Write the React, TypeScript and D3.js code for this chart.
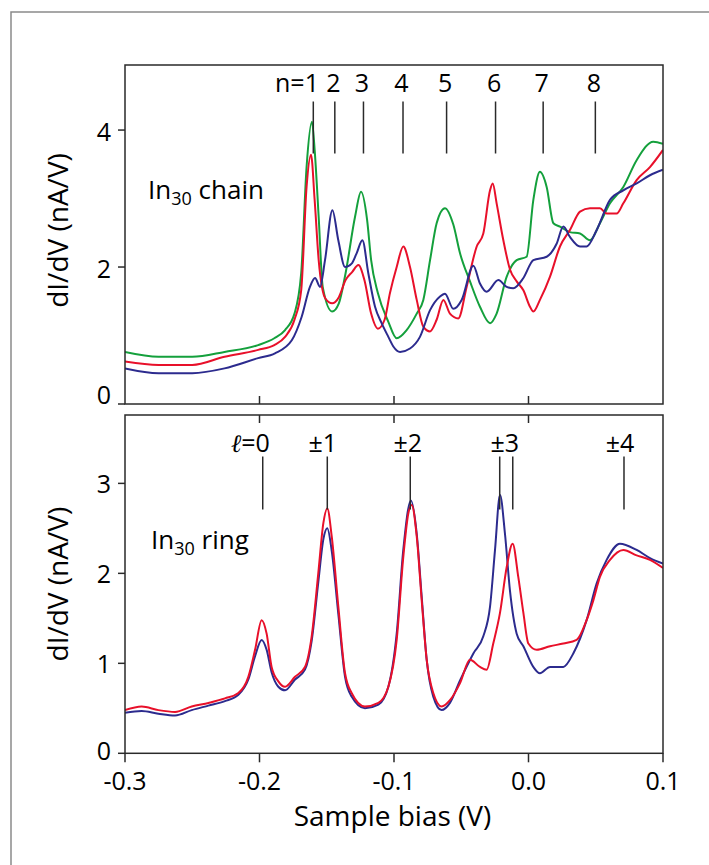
import React from "react";
import * as d3 from "d3";

// ---------- DATA (bias in V, dI/dV in nA/V) ----------
const chainGreen: [number, number][] = [
  [-0.3, 0.76], [-0.275, 0.69], [-0.25, 0.69], [-0.226, 0.76], [-0.201, 0.86], [-0.189, 0.96],
  [-0.181, 1.08], [-0.174, 1.32], [-0.169, 1.91], [-0.165, 3.46], [-0.161, 4.12], [-0.159, 3.71],
  [-0.156, 2.73], [-0.153, 1.71], [-0.146, 1.35], [-0.141, 1.47], [-0.136, 1.91], [-0.129, 2.73],
  [-0.1245, 3.1], [-0.12, 2.69], [-0.117, 2.1], [-0.112, 1.62], [-0.1042, 1.2], [-0.098, 0.96],
  [-0.0906, 1.08], [-0.0831, 1.32], [-0.0782, 1.52], [-0.0732, 2.1], [-0.0683, 2.64], [-0.0621, 2.86],
  [-0.0559, 2.62], [-0.0509, 2.2], [-0.0435, 1.79], [-0.0361, 1.42], [-0.0286, 1.18], [-0.0237, 1.32],
  [-0.0162, 1.86], [-0.0088, 2.1], [-0.0014, 2.15], [0.0036, 2.98], [0.0085, 3.39], [0.0135, 3.17],
  [0.0185, 2.64], [0.0234, 2.59], [0.0308, 2.51], [0.0383, 2.49], [0.0457, 2.39], [0.0531, 2.64],
  [0.0606, 2.93], [0.0705, 3.17], [0.0804, 3.56], [0.0928, 3.83], [0.1, 3.8],
];
const chainRed: [number, number][] = [
  [-0.3, 0.62], [-0.275, 0.57], [-0.25, 0.57], [-0.226, 0.69], [-0.201, 0.79], [-0.189, 0.86],
  [-0.181, 0.98], [-0.174, 1.23], [-0.169, 1.66], [-0.165, 3.17], [-0.1617, 3.64], [-0.159, 2.98],
  [-0.156, 2.1], [-0.151, 1.54], [-0.146, 1.47], [-0.141, 1.56], [-0.136, 1.81], [-0.131, 1.93],
  [-0.1265, 2.03], [-0.122, 1.81], [-0.117, 1.32], [-0.112, 1.1], [-0.107, 1.23], [-0.103, 1.62],
  [-0.098, 2.0], [-0.0931, 2.3], [-0.0881, 2.0], [-0.0831, 1.52], [-0.0782, 1.13], [-0.0732, 1.06],
  [-0.0683, 1.23], [-0.0633, 1.52], [-0.0584, 1.32], [-0.0522, 1.25], [-0.046, 1.71], [-0.0385, 2.3],
  [-0.0336, 2.49], [-0.0286, 3.12], [-0.0266, 3.22], [-0.0237, 2.93], [-0.0187, 2.39], [-0.0137, 1.96],
  [-0.0088, 1.79], [-0.0038, 1.66], [0.0011, 1.42], [0.0036, 1.35], [0.0085, 1.52], [0.016, 1.86],
  [0.0234, 2.3], [0.0308, 2.54], [0.0383, 2.81], [0.0457, 2.86], [0.0531, 2.86], [0.0581, 2.78],
  [0.0655, 2.78], [0.0705, 2.93], [0.0804, 3.27], [0.0903, 3.46], [0.1, 3.71],
];
const chainBlue: [number, number][] = [
  [-0.3, 0.52], [-0.275, 0.45], [-0.25, 0.45], [-0.226, 0.52], [-0.201, 0.67], [-0.1885, 0.74],
  [-0.176, 0.93], [-0.1687, 1.27], [-0.1625, 1.71], [-0.1587, 1.84], [-0.155, 1.71], [-0.1513, 2.1],
  [-0.1458, 2.83], [-0.1414, 2.39], [-0.1364, 2.0], [-0.1315, 2.05], [-0.1278, 2.2], [-0.1235, 2.39],
  [-0.1191, 1.91], [-0.1141, 1.42], [-0.1092, 1.18], [-0.1042, 0.98], [-0.1005, 0.84], [-0.0955, 0.76],
  [-0.0881, 0.81], [-0.0807, 0.98], [-0.0732, 1.37], [-0.0658, 1.57], [-0.0621, 1.61], [-0.0559, 1.39],
  [-0.0497, 1.52], [-0.041, 2.02], [-0.0361, 1.76], [-0.0311, 1.64], [-0.0224, 1.81], [-0.0162, 1.71],
  [-0.0113, 1.69], [-0.0038, 1.84], [0.0036, 2.1], [0.0135, 2.15], [0.0209, 2.34], [0.0259, 2.59],
  [0.0308, 2.44], [0.0383, 2.3], [0.0432, 2.3], [0.0507, 2.54], [0.0606, 2.98], [0.0705, 3.12],
  [0.0804, 3.22], [0.0903, 3.34], [0.1, 3.42],
];
const ringRed: [number, number][] = [
  [-0.3, 0.48], [-0.2876, 0.52], [-0.2752, 0.48], [-0.2628, 0.46], [-0.2504, 0.52], [-0.238, 0.56],
  [-0.2257, 0.61], [-0.2157, 0.67], [-0.2083, 0.85], [-0.2033, 1.15], [-0.1984, 1.48], [-0.1947, 1.33],
  [-0.191, 0.96], [-0.186, 0.8], [-0.181, 0.74], [-0.1736, 0.85], [-0.1662, 0.96], [-0.1612, 1.3],
  [-0.1563, 2.0], [-0.1525, 2.56], [-0.1496, 2.72], [-0.1463, 2.41], [-0.1414, 1.63], [-0.1364, 0.89],
  [-0.1315, 0.67], [-0.1216, 0.52], [-0.1116, 0.56], [-0.1042, 0.74], [-0.098, 1.26], [-0.0931, 2.18],
  [-0.0893, 2.67], [-0.0869, 2.76], [-0.0831, 2.41], [-0.0794, 1.7], [-0.0757, 1.04], [-0.0708, 0.67],
  [-0.0646, 0.52], [-0.0584, 0.59], [-0.0509, 0.78], [-0.0435, 1.04], [-0.0361, 0.96], [-0.0311, 0.93],
  [-0.0262, 1.22], [-0.0212, 1.56], [-0.0162, 2.07], [-0.0118, 2.33], [-0.0076, 1.96], [-0.0038, 1.56],
  [-0.0001, 1.22], [0.0061, 1.15], [0.016, 1.19], [0.0259, 1.22], [0.0358, 1.26], [0.0432, 1.48],
  [0.0482, 1.7], [0.0531, 1.96], [0.0606, 2.15], [0.0705, 2.26], [0.0804, 2.2], [0.0903, 2.15],
  [0.1, 2.06],
];
const ringBlue: [number, number][] = [
  [-0.3, 0.45], [-0.2876, 0.47], [-0.2752, 0.44], [-0.2628, 0.42], [-0.2504, 0.48], [-0.238, 0.53],
  [-0.2257, 0.58], [-0.2157, 0.65], [-0.2083, 0.82], [-0.2033, 1.08], [-0.1984, 1.26], [-0.1947, 1.15],
  [-0.191, 0.9], [-0.186, 0.74], [-0.181, 0.7], [-0.1736, 0.82], [-0.1662, 0.93], [-0.1612, 1.25],
  [-0.1563, 1.9], [-0.1525, 2.38], [-0.1496, 2.5], [-0.1463, 2.25], [-0.1414, 1.55], [-0.1364, 0.85],
  [-0.1315, 0.63], [-0.1216, 0.5], [-0.1116, 0.54], [-0.1042, 0.74], [-0.098, 1.33], [-0.0931, 2.26],
  [-0.0874, 2.81], [-0.0831, 2.44], [-0.0794, 1.74], [-0.0757, 1.04], [-0.0708, 0.63], [-0.0646, 0.48],
  [-0.0584, 0.56], [-0.0509, 0.81], [-0.041, 1.11], [-0.0336, 1.3], [-0.0286, 1.63], [-0.0249, 2.26],
  [-0.0212, 2.87], [-0.0175, 2.44], [-0.0138, 1.81], [-0.0088, 1.33], [-0.0038, 1.19], [0.0036, 0.96],
  [0.0085, 0.89], [0.016, 0.96], [0.0259, 0.96], [0.0333, 1.11], [0.0432, 1.48], [0.0507, 1.89],
  [0.0581, 2.15], [0.068, 2.33], [0.0804, 2.26], [0.0903, 2.17], [0.1, 2.11],
];

const xTicks = [-0.3, -0.2, -0.1, 0.0, 0.1];
const xTickLabels = ["-0.3", "-0.2", "-0.1", "0.0", "0.1"];
const chainYTicks = [0, 2, 4];
const ringYTicks = [0, 1, 2, 3];

const chainMarkerBias = [-0.16, -0.144, -0.1227, -0.0933, -0.0609, -0.0245, 0.0109, 0.0497];
const chainMarkerLabels = ["1", "2", "3", "4", "5", "6", "7", "8"];
const ringMarkerBias = [-0.1976, -0.1496, -0.0879, -0.0214, -0.0117, 0.071];
const ringLabelBias = [-0.1976, -0.153, -0.0898, -0.0176, 0.068];
const ringLabels = ["0", "±1", "±2", "±3", "±4"];

// ---------- STYLE ----------
const FONT = "'Open Sans', 'DejaVu Sans', sans-serif";
const GREEN = "#14a03c";
const RED = "#e8102a";
const BLUE = "#2c2b8e";
const AX = "#2a2a2a";

export default function App() {
  const left = 125, right = 663;
  const x = d3.scaleLinear().domain([-0.3, 0.1]).range([left, right]);
  const topY0 = 404, topY1 = 65;
  const botY0 = 753.3, botY1 = 415;
  const yTop = d3.scaleLinear().domain([0, 4.95]).range([topY0, topY1]);
  const yBot = d3.scaleLinear().domain([0, 3.76]).range([botY0, botY1]);

  const lineTop = d3.line<[number, number]>().x((d) => x(d[0])).y((d) => yTop(d[1])).curve(d3.curveMonotoneX);
  const lineBot = d3.line<[number, number]>().x((d) => x(d[0])).y((d) => yBot(d[1])).curve(d3.curveMonotoneX);

  const fs = 25; // tick & marker labels
  const fsTitle = 28; // axis titles
  const fsPanel = 26;
  const digitHalf = 7.2;

  return (
    <svg width={709} height={865} style={{ position: "absolute", left: 0, top: 0, background: "#fff" }} fontFamily={FONT}>
      <rect x={0} y={0} width={709} height={865} fill="#fff" />
      {/* outer frame */}
      <path d="M11,865 V12 H709" fill="none" stroke="#8a8a8a" strokeWidth={1.5} />

      <defs>
        <clipPath id="clipTop"><rect x={left} y={topY1} width={right - left} height={topY0 - topY1} /></clipPath>
        <clipPath id="clipBot"><rect x={left} y={botY1} width={right - left} height={botY0 - botY1} /></clipPath>
      </defs>

      {/* ---------- TOP PANEL ---------- */}
      <g clipPath="url(#clipTop)" fill="none" strokeWidth={2} strokeLinejoin="round">
        <path d={lineTop(chainGreen) || ""} stroke={GREEN} />
        <path d={lineTop(chainRed) || ""} stroke={RED} />
        <path d={lineTop(chainBlue) || ""} stroke={BLUE} />
      </g>
      <rect x={left} y={topY1} width={right - left} height={topY0 - topY1} fill="none" stroke={AX} strokeWidth={1.5} />
      {chainYTicks.map((t) => (
        <g key={"ty" + t}>
          <line x1={left - 7} x2={left} y1={yTop(t)} y2={yTop(t)} stroke={AX} strokeWidth={1.5} />
          <text x={111} y={t === 0 ? yTop(t) : yTop(t) + 11} fontSize={fs} textAnchor="end" fill="#000">{t}</text>
        </g>
      ))}
      {xTicks.slice(1, 4).map((t) => (
        <line key={"tx" + t} x1={x(t)} x2={x(t)} y1={topY0} y2={topY0 - 8} stroke={AX} strokeWidth={1.5} />
      ))}
      <text transform={`translate(68,${(topY0 + topY1) / 2 - 4}) rotate(-90)`} fontSize={fsTitle} textAnchor="middle" fill="#000">dI/dV (nA/V)</text>
      <text x={148} y={199} fontSize={fsPanel} fill="#000">
        In<tspan fontSize={18} dy={6}>30</tspan><tspan dy={-6}> chain</tspan>
      </text>
      {chainMarkerBias.map((b, i) => (
        <g key={"cm" + i}>
          <line x1={x(b)} x2={x(b)} y1={101.5} y2={153.5} stroke={AX} strokeWidth={1.5} />
          <text x={x(b) - 1.5} y={92} fontSize={fs} textAnchor="middle" fill="#000">{chainMarkerLabels[i]}</text>
        </g>
      ))}
      <text x={x(chainMarkerBias[0]) - 1.5 - digitHalf} y={92} fontSize={fs} textAnchor="end" fill="#000">n=</text>

      {/* ---------- BOTTOM PANEL ---------- */}
      <g clipPath="url(#clipBot)" fill="none" strokeWidth={2} strokeLinejoin="round">
        <path d={lineBot(ringBlue) || ""} stroke={BLUE} />
        <path d={lineBot(ringRed) || ""} stroke={RED} />
      </g>
      <rect x={left} y={botY1} width={right - left} height={botY0 - botY1} fill="none" stroke={AX} strokeWidth={1.5} />
      {ringYTicks.map((t) => (
        <g key={"by" + t}>
          <line x1={left - 7} x2={left} y1={yBot(t)} y2={yBot(t)} stroke={AX} strokeWidth={1.5} />
          <text x={111} y={t === 0 ? yBot(t) + 7 : yBot(t) + 10} fontSize={fs} textAnchor="end" fill="#000">{t}</text>
        </g>
      ))}
      {xTicks.slice(1, 4).map((t) => (
        <line key={"btx" + t} x1={x(t)} x2={x(t)} y1={botY1} y2={botY1 + 8} stroke={AX} strokeWidth={1.5} />
      ))}
      {xTicks.map((t, i) => (
        <g key={"bx" + t}>
          <line x1={x(t)} x2={x(t)} y1={botY0} y2={botY0 + 9} stroke={AX} strokeWidth={1.5} />
          <text x={x(t)} y={790} fontSize={fs} textAnchor="middle" fill="#000">{xTickLabels[i]}</text>
        </g>
      ))}
      <text transform={`translate(68,${(botY0 + botY1) / 2}) rotate(-90)`} fontSize={fsTitle} textAnchor="middle" fill="#000">dI/dV (nA/V)</text>
      <text x={392.5} y={826} fontSize={fsTitle} textAnchor="middle" fill="#000">Sample bias (V)</text>
      <text x={151} y={549} fontSize={fsPanel} fill="#000">
        In<tspan fontSize={18} dy={6}>30</tspan><tspan dy={-6}> ring</tspan>
      </text>
      {ringMarkerBias.map((b, i) => (
        <line key={"rm" + i} x1={x(b)} x2={x(b)} y1={456.5} y2={509.5} stroke={AX} strokeWidth={1.5} />
      ))}
      {ringLabels.map((l, i) => (
        <text key={"rl" + i} x={x(ringLabelBias[i])} y={452} fontSize={fs} textAnchor="middle" fill="#000">{l}</text>
      ))}
      <text x={x(ringLabelBias[0]) - digitHalf} y={452} fontSize={fs} textAnchor="end" fill="#000">
        <tspan fontFamily="'DejaVu Serif', serif" fontStyle="italic">ℓ</tspan>=
      </text>
    </svg>
  );
}
